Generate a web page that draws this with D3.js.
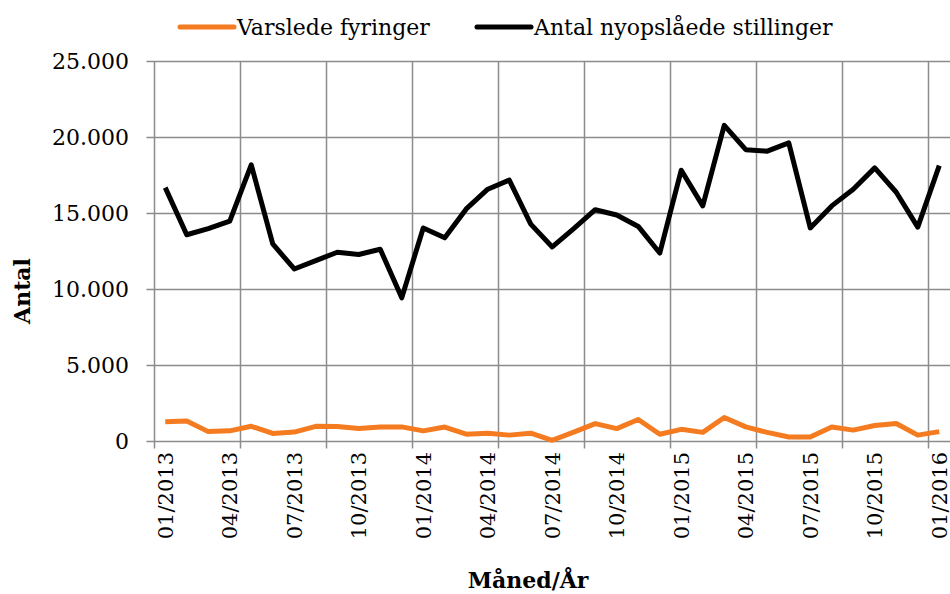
<!DOCTYPE html>
<html>
<head>
<meta charset="utf-8">
<script src="https://cdn.jsdelivr.net/npm/d3@7"></script>
<style>
  body { margin: 0; background: #fff; }
  text { font-family: "DejaVu Serif", serif; fill: #000; }
</style>
</head>
<body>
<div id="chart"></div>
<script>
var months = [
  "01/2013", "02/2013", "03/2013", "04/2013", "05/2013", "06/2013",
  "07/2013", "08/2013", "09/2013", "10/2013", "11/2013", "12/2013",
  "01/2014", "02/2014", "03/2014", "04/2014", "05/2014", "06/2014",
  "07/2014", "08/2014", "09/2014", "10/2014", "11/2014", "12/2014",
  "01/2015", "02/2015", "03/2015", "04/2015", "05/2015", "06/2015",
  "07/2015", "08/2015", "09/2015", "10/2015", "11/2015", "12/2015",
  "01/2016"
];
var fyringer = [
  1300, 1350, 650, 700, 1000, 530, 620, 1000, 980, 850, 960, 960,
  700, 950, 480, 550, 420, 550, 80, 620, 1180, 850, 1450, 480,
  800, 600, 1580, 960, 600, 300, 300, 960, 750, 1050, 1180, 420,
  650
];
var stillinger = [
  16700, 13600, 14000, 14500, 18200, 13000, 11350, 11900, 12450, 12300, 12650, 9450,
  14050, 13400, 15300, 16600, 17200, 14300, 12800, 14000, 15250, 14900, 14150, 12400,
  17850, 15500, 20800, 19200, 19100, 19650, 14050, 15500, 16600, 18000, 16400, 14100,
  18150
];
var yTicks = [0, 5000, 10000, 15000, 20000, 25000];
var seriesNames = ["Varslede fyringer", "Antal nyopslåede stillinger"];
var seriesColors = ["#f47b20", "#000000"];

var width = 950, height = 594;
var plotL = 154.5, plotR = 950, plotT = 61.5, plotB = 441.5;
var grid = "#8c8c8c";

var svg = d3.select("#chart").append("svg")
  .attr("width", width)
  .attr("height", height);

var x = d3.scaleBand().domain(months).range([plotL, plotR]).padding(0);
var y = d3.scaleLinear().domain([0, 25000]).range([plotB, plotT]);
var fmt = function(v) { return d3.format(",")(v).replace(/,/g, "."); };

// horizontal gridlines + y ticks
svg.append("g").selectAll("line")
  .data(yTicks)
  .enter().append("line")
  .attr("x1", plotL - 8).attr("x2", plotR)
  .attr("y1", d => y(d)).attr("y2", d => y(d))
  .attr("stroke", grid).attr("stroke-width", 1.5);

// vertical gridlines every 4 months
var gridMonths = months.filter((m, i) => i % 4 == 0);
svg.append("g").selectAll("line")
  .data(gridMonths)
  .enter().append("line")
  .attr("x1", d => x(d)).attr("x2", d => x(d))
  .attr("y1", plotT).attr("y2", plotB + 7)
  .attr("stroke", grid).attr("stroke-width", 1.5);

// y labels
svg.append("g").selectAll("text")
  .data(yTicks)
  .enter().append("text")
  .attr("x", 129)
  .attr("y", d => y(d))
  .attr("dy", "0.36em")
  .attr("text-anchor", "end")
  .style("font-size", "22px")
  .text(d => fmt(d));

// x labels every 3 months
var labelMonths = months.filter((m, i) => i % 3 == 0);
svg.append("g").selectAll("text")
  .data(labelMonths)
  .enter().append("text")
  .attr("transform", d => "translate(" + (x(d) + x.bandwidth() / 2) + "," + 452 + ") rotate(-90)")
  .attr("dy", "0.36em")
  .attr("text-anchor", "end")
  .style("font-size", "21px")
  .text(d => d);

// lines
var line = d3.line()
  .x((d, i) => x(months[i]) + x.bandwidth() / 2)
  .y(d => y(d));

[fyringer, stillinger].forEach(function(s, k) {
  svg.append("path")
    .datum(s)
    .attr("d", line)
    .attr("fill", "none")
    .attr("stroke", seriesColors[k])
    .attr("stroke-width", 5)
    .attr("stroke-linejoin", "round");
});

// legend
var legendX = [180, 477];
seriesNames.forEach(function(n, k) {
  svg.append("line")
    .attr("x1", legendX[k]).attr("x2", legendX[k] + 54)
    .attr("y1", 27).attr("y2", 27)
    .attr("stroke", seriesColors[k]).attr("stroke-width", 5)
    .attr("stroke-linecap", "round");
  svg.append("text")
    .attr("x", legendX[k] + 57)
    .attr("y", 27)
    .attr("dy", "0.36em")
    .style("font-size", "22px")
    .text(n);
});

// axis titles
svg.append("text")
  .attr("transform", "translate(22,291) rotate(-90)")
  .attr("dy", "0.36em")
  .attr("text-anchor", "middle")
  .style("font-size", "22px")
  .style("font-weight", "bold")
  .text("Antal");

svg.append("text")
  .attr("x", 528)
  .attr("y", 588)
  .attr("text-anchor", "middle")
  .style("font-size", "22px")
  .style("font-weight", "bold")
  .text("Måned/År");
</script>
</body>
</html>
